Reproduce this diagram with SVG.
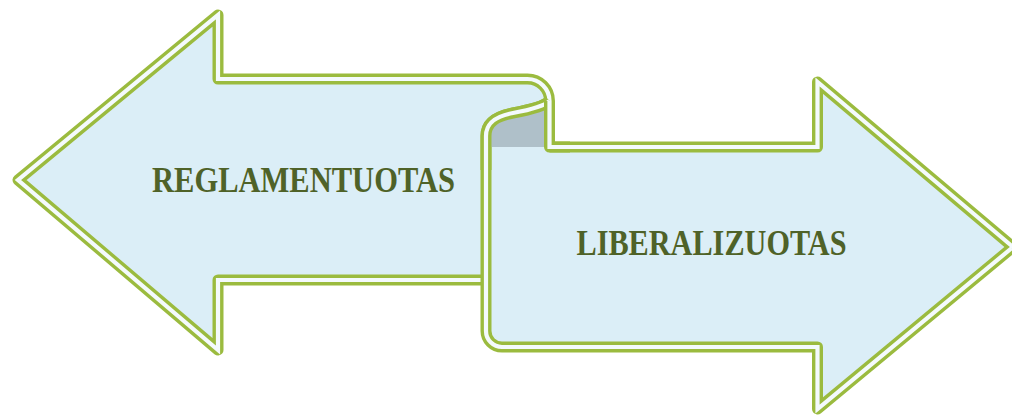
<svg xmlns="http://www.w3.org/2000/svg" xmlns:xlink="http://www.w3.org/1999/xlink" width="1012" height="416" viewBox="0 0 1012 416">
<style>
.fill{fill:#dbeef7;stroke:none}
.fold{fill:#afc0c9;stroke:none}
.line{fill:none;stroke:#9bbb3f;stroke-width:11;stroke-linejoin:round}
.gap{fill:none;stroke:#f4fafd;stroke-width:4.2;stroke-linejoin:miter}
.label{font-family:"Liberation Serif","Times New Roman",serif;font-weight:bold;font-size:35px;fill:#4f6228;text-anchor:middle}
</style>
<defs>
<path id="pL" d="M 549.5,147 L 549.5,101 A 22,22 0 0 0 527.5,79 L 218,79 L 218,15 L 18,180 L 218,350 L 218,280 L 500,280"/>
<path id="pR" d="M 549.5,147 L 817.5,147 L 817.5,82 L 1013,247 L 817.5,409 L 817.5,347 L 502,347 A 16,16 0 0 1 486,331 L 486,136 C 486,122 497,116 513,113 C 529,110 544,106.5 549.5,101"/>
<path id="pCurl" d="M 486,170 L 486,136 C 486,122 497,116 513,113 C 529,110 544,106.5 549.5,101"/>
<path id="pEdge" d="M 549.5,101 L 549.5,147 L 570,147"/>
</defs>
<g id="node-reglamentuotas">
<use xlink:href="#pL" class="fill"/>
<use xlink:href="#pL" class="line"/>
<use xlink:href="#pL" class="gap"/>
</g>
<g id="node-liberalizuotas">
<use xlink:href="#pR" class="fill"/>
<use xlink:href="#pR" class="line"/>
<use xlink:href="#pR" class="gap"/>
</g>
<g id="fold">
<path class="fold" d="M 486,147 L 486,136 C 486,122 497,116 513,113 C 529,110 544,106.5 549.5,101 L 549.5,147 Z"/>
<use xlink:href="#pCurl" class="line"/>
<use xlink:href="#pCurl" class="gap"/>
<use xlink:href="#pEdge" class="line"/>
<use xlink:href="#pEdge" class="gap"/>
</g>
<g id="connectors"></g>
<g id="labels">
<text class="label" x="303.5" y="191.5" textLength="303" lengthAdjust="spacingAndGlyphs">REGLAMENTUOTAS</text>
<text class="label" x="711.5" y="255" textLength="270" lengthAdjust="spacingAndGlyphs">LIBERALIZUOTAS</text>
</g>
</svg>
